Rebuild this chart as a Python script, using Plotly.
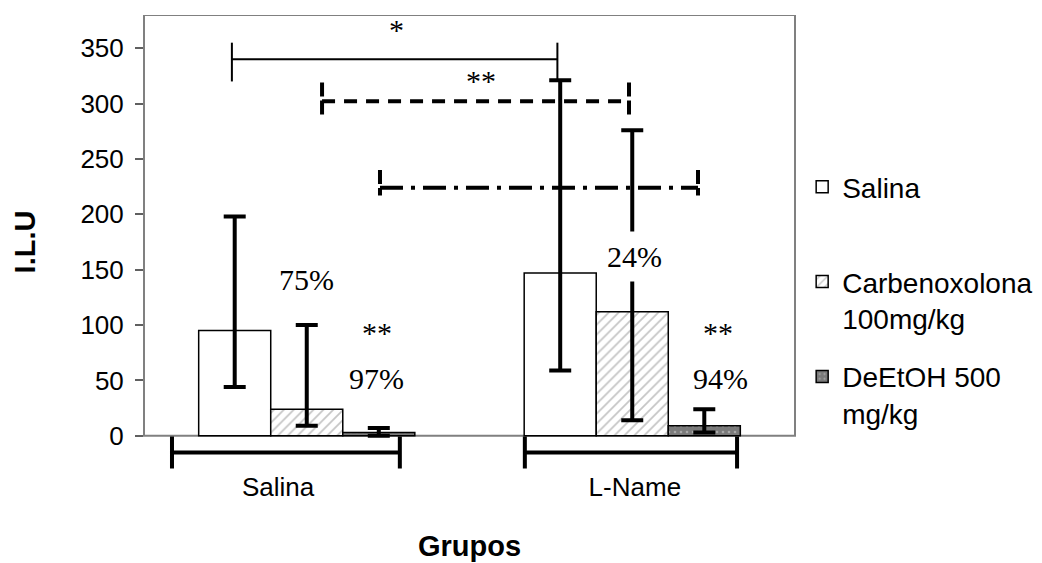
import plotly.graph_objects as go

# ---- data ----
groups = ["Salina", "L-Name"]
group_pos = [0, 1]
group_label_pos = [-0.088, 1.008]
series = ["Salina", "Carbenoxolona<br>100mg/kg", "DeEtOH 500<br>mg/kg"]
means = {
    "Salina": [95, 147],
    "Carbenoxolona<br>100mg/kg": [24, 112],
    "DeEtOH 500<br>mg/kg": [3, 9],
}
upper = {
    "Salina": [198, 321],
    "Carbenoxolona<br>100mg/kg": [100, 276],
    "DeEtOH 500<br>mg/kg": [7, 24],
}
lower = {
    "Salina": [44, 59],
    "Carbenoxolona<br>100mg/kg": [9, 14],
    "DeEtOH 500<br>mg/kg": [0, 3],
}
y_ticks = [0, 50, 100, 150, 200, 250, 300, 350]

# under-axis span bars (as drawn in the original figure)
span_center = [-0.064, 0.996]
span_half = [0.350, 0.326]
span_y = [-15, -15]

# significance brackets
bracket_x0 = [-0.23, 0.047, 0.225]
bracket_x1 = [0.77, 0.990, 1.202]
bracket_y = [340, 302, 224]
bracket_top = [355, 319, 240]
bracket_bot = [320, 288, 217]

# text labels (x, y, text)
label_x = [0.276, 0.534, 0.0, 0.215, 0.215, 1.008, 1.264, 1.270]
label_y = [367, 321, 141, 93, 52, 162, 93, 52]
label_text = ["*", "**", "75%", "**", "97%", "24%", "**", "94%"]

fig = go.Figure()

styles = {
    "Salina": dict(color="white"),
    "Carbenoxolona<br>100mg/kg": dict(color="white",
        pattern=dict(shape="/", fgcolor="#8c8c8c", bgcolor="white", size=7, solidity=0.25)),
    "DeEtOH 500<br>mg/kg": dict(color="#7a7a7a",
        pattern=dict(shape=".", fgcolor="#d8d8d8", bgcolor="#7a7a7a", size=6, solidity=0.15)),
}
legend_names = {"Salina": "Salina<br> ", "Carbenoxolona<br>100mg/kg": "Carbenoxolona<br>100mg/kg",
                "DeEtOH 500<br>mg/kg": "DeEtOH 500<br>mg/kg"}

for i, s in enumerate(series):
    m = means[s]
    fig.add_trace(go.Bar(
        x=group_pos, y=m, name=legend_names[s], legendgroup=f"g{i}",
        marker=dict(line=dict(color="black", width=1.5), **styles[s]),
        error_y=dict(type="data", symmetric=False,
                     array=[u - v for u, v in zip(upper[s], m)],
                     arrayminus=[v - l for v, l in zip(m, lower[s])],
                     color="black", thickness=4, width=11),
    ))

# under-axis spans
fig.add_trace(go.Scatter(
    x=span_center, y=span_y, mode="markers", marker=dict(size=1, color="rgba(0,0,0,0)"),
    error_x=dict(type="data", array=span_half, color="black", thickness=4, width=16),
    showlegend=False, hoverinfo="skip"))

# brackets
dash_styles = ["solid", "13px,9px", "23px,8px,4px,8px"]
widths = [2, 4, 4]
for i in range(3):
    fig.add_trace(go.Scatter(
        x=[bracket_x0[i], bracket_x1[i]], y=[bracket_y[i], bracket_y[i]], mode="lines",
        line=dict(color="black", width=widths[i], dash=dash_styles[i]),
        showlegend=False, hoverinfo="skip"))
    fig.add_trace(go.Scatter(
        x=[bracket_x0[i], bracket_x0[i], None, bracket_x1[i], bracket_x1[i]],
        y=[bracket_top[i], bracket_bot[i], None, bracket_top[i], bracket_bot[i]], mode="lines",
        line=dict(color="black", width=widths[i], dash="solid" if i == 0 else "14px,4px"),
        showlegend=False, hoverinfo="skip"))

for x, y, t in zip(label_x, label_y, label_text):
    fig.add_annotation(x=x, y=y, text=t, showarrow=False,
                       font=dict(family="Liberation Serif", size=30, color="black"),
                       bgcolor="white" if t == "24%" else None, borderpad=8 if t == "24%" else 1)

# frame
fig.add_shape(type="rect", xref="paper", x0=0, x1=1, yref="y", y0=0, y1=380,
              line=dict(color="#808080", width=2), layer="below")

fig.update_layout(
    width=1042, height=563,
    margin=dict(l=136, r=255, t=7, b=102),
    plot_bgcolor="white", paper_bgcolor="white",
    barmode="group", bargap=0.336, bargroupgap=0,
    font=dict(family="Liberation Sans", color="black"),
    showlegend=True,
    legend=dict(x=1.011, xanchor="left", y=0.676, yanchor="top", valign="top",
                font=dict(family="Liberation Sans", size=28, color="black"),
                tracegroupgap=19, bgcolor="rgba(0,0,0,0)"),
    xaxis=dict(range=[-0.5, 1.5], tickvals=group_label_pos, ticktext=groups,
               showgrid=False, zeroline=False, showline=False, ticks="",
               tickfont=dict(size=26),
               title=dict(text="<b>Grupos</b>", font=dict(size=29), standoff=34)),
    yaxis=dict(range=[-30, 380], tickvals=y_ticks, showgrid=False, zeroline=False,
               showline=False, ticks="outside", ticklen=8, tickwidth=2, tickcolor="#606060",
               tickfont=dict(size=26), ticklabelstandoff=6,
               title=dict(text="<b>I.L.U</b>", font=dict(size=29), standoff=36)),
)

fig.write_html("out.html")
